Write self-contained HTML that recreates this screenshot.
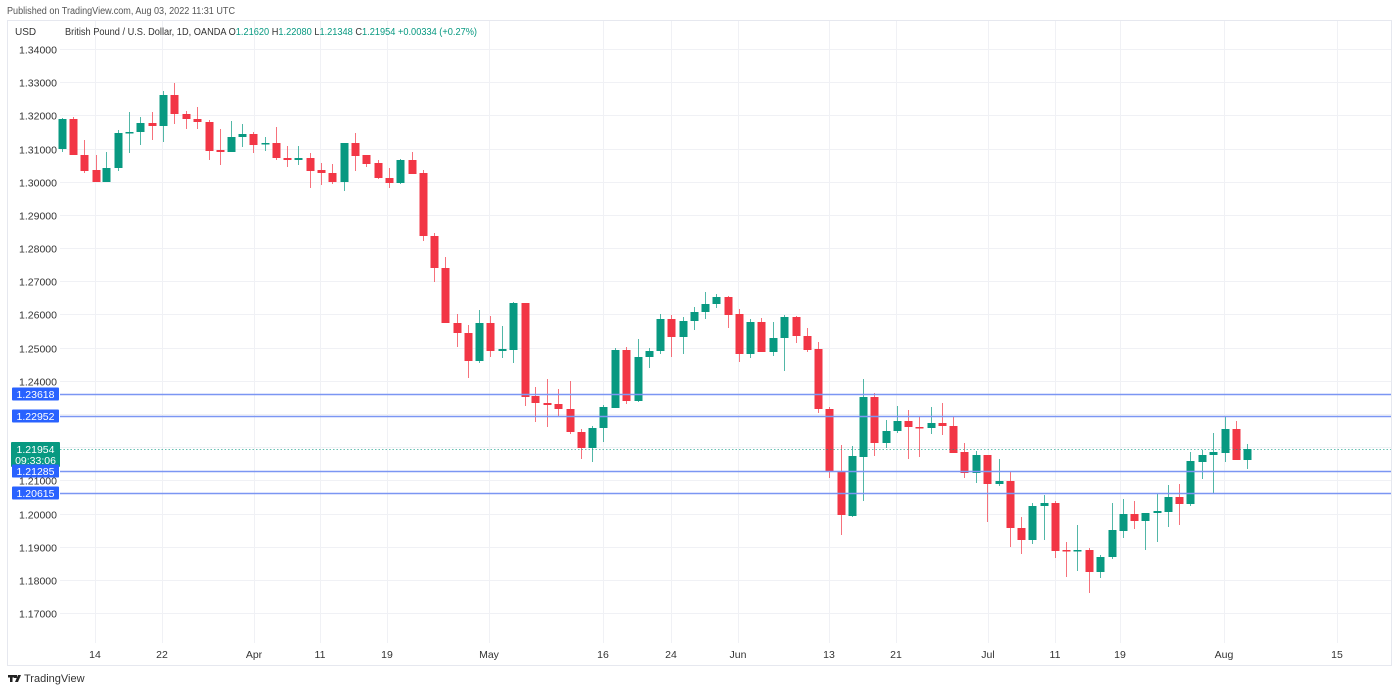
<!DOCTYPE html>
<html><head><meta charset="utf-8"><style>
html,body{margin:0;padding:0;background:#fff;width:1400px;height:692px;overflow:hidden;font-family:"Liberation Sans",sans-serif}
svg text{font-family:"Liberation Sans",sans-serif}
</style></head><body>
<svg id="s" width="1400" height="692" viewBox="0 0 1400 692" xmlns="http://www.w3.org/2000/svg">
<rect x="7.5" y="20.5" width="1384" height="645" fill="#fff" stroke="#e6e8ef"/>
<g id="grid" stroke="#f0f1f5" stroke-width="1"></g>
<g id="cd"></g>
<g id="ov"></g>
<text x="7" y="14" font-size="10" fill="#555" textLength="228" lengthAdjust="spacingAndGlyphs">Published on TradingView.com, Aug 03, 2022 11:31 UTC</text>
<text x="15" y="35" font-size="10" fill="#333">USD</text>
<text x="65" y="35" font-size="10" fill="#333" textLength="412" lengthAdjust="spacingAndGlyphs">British Pound / U.S. Dollar, 1D, OANDA  O<tspan fill="#089981">1.21620</tspan>  H<tspan fill="#089981">1.22080</tspan>  L<tspan fill="#089981">1.21348</tspan>  C<tspan fill="#089981">1.21954</tspan>  <tspan fill="#089981">+0.00334 (+0.27%)</tspan></text>
<g fill="#222"><rect x="8" y="675" width="6" height="2.5"/><rect x="10" y="675" width="2.5" height="7"/><rect x="14" y="675" width="3" height="3"/><polygon points="18,675 21,675 18,682 15,682"/></g>
<text x="24" y="682" font-size="11" fill="#333">TradingView</text>
</svg>
<script>
var ns="http://www.w3.org/2000/svg";
function el(p,t,a,txt){var e=document.createElementNS(ns,t);for(var k in a)e.setAttribute(k,a[k]);if(txt!=null)e.textContent=txt;p.appendChild(e);return e;}
var g=document.getElementById('grid'),ov=document.getElementById('ov'),cd=document.getElementById('cd');
function py(p){return 49+(1.34-p)*3318;}
var prices=[1.34,1.33,1.32,1.31,1.30,1.29,1.28,1.27,1.26,1.25,1.24,1.23,1.22,1.21,1.20,1.19,1.18,1.17];
prices.forEach(function(p){var y=Math.round(py(p))+0.5;el(g,'line',{x1:60,x2:1391,y1:y,y2:y});
 if(p!=1.23&&p!=1.22)el(ov,'text',{x:57,y:y+4,'font-size':10.5,fill:'#333','text-anchor':'end'},p.toFixed(5));});
var dates=[[95,'14'],[162,'22'],[254,'Apr'],[320,'11'],[387,'19'],[489,'May'],[603,'16'],[671,'24'],[738,'Jun'],[829,'13'],[896,'21'],[988,'Jul'],[1055,'11'],[1120,'19'],[1224,'Aug'],[1337,'15']];
dates.forEach(function(d){el(g,'line',{x1:d[0]+0.5,x2:d[0]+0.5,y1:21,y2:643});
 el(ov,'text',{x:d[0],y:658,'font-size':10.5,fill:'#333','text-anchor':'middle'},d[1]);});
var C=[
[62,119,149,118,152,1],[73,119,155,117,155,0],[84,155,171,140,173,0],[96,170,182,155,182,0],[106,168,182,152,182,1],
[118,133,168,130,171,1],[129,132,133,112,153,1],[140,123,132,117,145,1],[152,123,126,112,140,0],[163,95,126,91,142,1],
[174,95,114,83,124,0],[186,114,119,111,129,0],[197,119,122,107,129,0],[209,122,151,120,160,0],[220,150,152,129,165,0],
[231,137,152,121,152,1],[242,134,137,124,147,1],[253,134,145,132,153,0],[265,143,144,137,151,1],[276,143,158,127,160,0],
[287,158,160,146,167,0],[298,158,160,146,165,1],[310,158,171,153,188,0],[321,170,173,163,185,0],[332,173,182,164,184,0],
[344,143,182,143,191,1],[355,143,156,133,171,0],[366,155,164,155,167,0],[378,163,178,160,179,0],[389,178,183,168,188,0],
[400,160,183,159,184,1],[412,160,174,152,174,0],[423,173,236,170,241,0],[434,236,268,233,282,0],[445,268,323,257,323,0],
[457,323,333,314,347,0],[468,333,361,325,378,0],[479,323,361,310,363,1],[490,323,351,316,357,0],[502,349,351,326,358,1],
[513,303,350,302,363,1],[525,303,397,303,406,0],[535,396,403,387,422,0],[547,403,405,379,427,0],[558,404,409,389,417,0],
[570,409,432,381,434,0],[581,432,448,429,459,0],[592,428,448,426,462,1],[603,407,428,405,442,1],[615,350,408,348,408,1],
[626,350,401,347,404,0],[638,357,401,339,402,1],[649,351,357,348,368,1],[660,319,351,314,354,1],[671,319,337,315,357,0],
[683,321,337,317,354,1],[694,312,321,307,330,1],[705,304,312,292,319,1],[716,297,304,294,308,1],[728,297,315,296,328,0],
[739,314,354,309,362,0],[750,322,354,319,358,1],[761,322,352,318,352,0],[773,338,352,322,356,1],[784,317,338,315,371,1],
[796,317,336,316,343,0],[807,336,350,328,352,0],[818,349,409,342,413,0],[829,409,472,407,478,0],[841,471,515,445,535,0],
[852,456,516,446,517,1],[863,397,457,379,501,1],[874,397,443,393,456,0],[886,431,443,420,448,1],[897,421,431,406,433,1],
[908,421,427,410,459,0],[919,427,428,416,457,0],[931,423,428,407,434,1],[942,423,426,403,435,0],[953,426,453,417,453,0],
[964,452,473,443,478,0],[976,455,473,451,483,1],[987,455,484,455,522,0],[999,481,484,459,486,1],[1010,481,528,472,547,0],
[1021,528,540,517,554,0],[1032,506,540,503,544,1],[1044,503,506,495,540,1],[1055,503,551,501,558,0],[1066,550,551,542,577,0],
[1077,550,551,525,571,1],[1089,550,572,548,593,0],[1100,557,572,555,578,1],[1112,530,557,503,559,1],[1123,514,531,499,538,1],
[1134,514,521,501,529,0],[1145,513,521,513,550,1],[1157,511,513,493,542,1],[1168,497,512,485,527,1],[1179,497,504,484,525,0],
[1190,461,504,452,506,1],[1202,455,462,450,479,1],[1213,452,455,433,493,1],[1225,429,453,416,462,1],[1236,429,460,421,460,0],
[1247,449,460,444,469,1]];
C.forEach(function(c){var col=c[5]?'#089981':'#F23645';
 el(cd,'line',{x1:c[0]+0.5,x2:c[0]+0.5,y1:c[3],y2:c[4],stroke:col,'stroke-opacity':0.7,'stroke-width':1});
 el(cd,'rect',{x:c[0]-3.5,y:c[1],width:8,height:Math.max(1.5,c[2]-c[1]),fill:col});});
[[394,'1.23618'],[416,'1.22952'],[471,'1.21285'],[493,'1.20615']].forEach(function(l){
 el(ov,'line',{x1:60,x2:1391,y1:l[0]+0.5,y2:l[0]+0.5,stroke:'#7b96f3','stroke-width':1.5});
 el(ov,'rect',{x:12,y:l[0]-6.5,width:47,height:13,fill:'#2962FF',rx:1});
 el(ov,'text',{x:35.5,y:l[0]+4,'font-size':10.5,fill:'#fff','text-anchor':'middle'},l[1]);});
el(ov,'line',{x1:60,x2:1391,y1:449.5,y2:449.5,stroke:'#089981','stroke-width':1,'stroke-dasharray':'1.5,2','stroke-opacity':0.6});
el(ov,'rect',{x:11,y:442,width:49,height:25,fill:'#089981',rx:1});
el(ov,'text',{x:35.5,y:453,'font-size':10.5,fill:'#fff','text-anchor':'middle'},'1.21954');
el(ov,'text',{x:35.5,y:464,'font-size':10.5,fill:'#fff','text-anchor':'middle'},'09:33:06');
el(ov,'rect',{x:12,y:464.5,width:47,height:13,fill:'#2962FF',rx:1});
el(ov,'text',{x:35.5,y:475,'font-size':10.5,fill:'#fff','text-anchor':'middle'},'1.21285');
</script>
</body></html>
